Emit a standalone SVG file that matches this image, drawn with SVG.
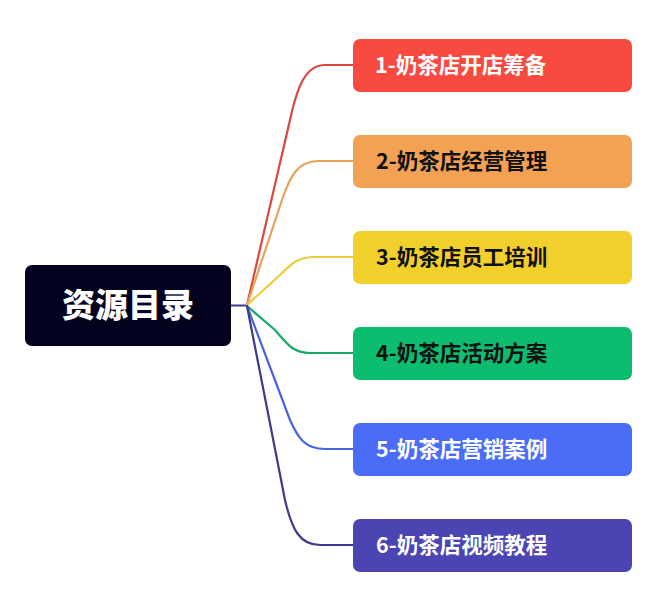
<svg xmlns="http://www.w3.org/2000/svg" width="657" height="590" viewBox="0 0 657 590">
<style>
  .conn { fill: none; stroke-width: 2.2; stroke-linecap: round; stroke-linejoin: round; }
  .node rect { rx: 7; ry: 7; }
  .lbl { font-family: "Noto Sans CJK SC", "Noto Sans", sans-serif; font-weight: 700; font-size: 21.5px; }
  .root-lbl { font-family: "Noto Sans CJK SC", "Noto Sans", sans-serif; font-weight: 900; font-size: 33px; fill: #ffffff; }
</style>
<rect width="657" height="590" fill="#ffffff"/>
<g id="connectors">
  <path class="conn" stroke="#3e3a8e" d="M231 305.5 L247 305.5"/>
  <path class="conn" stroke="#d9473e" d="M247 305 L290 120 C297 88 305 65 325 65 L353 65"/>
  <path class="conn" stroke="#e8a258" d="M247 305 L282 200 C290 176 298 161 318 161 L353 161"/>
  <path class="conn" stroke="#ebcd3b" d="M247 305 L280 275 C292 263 298 257 315 257 L353 257"/>
  <path class="conn" stroke="#17a86a" d="M247 306 L275 330 C287 344 293 353 310 353 L353 353"/>
  <path class="conn" stroke="#4a63dd" d="M247 306 L290 420 C298 438 305 449 325 449 L353 449"/>
  <path class="conn" stroke="#3e3a8e" d="M247 306 L285 500 C292 530 300 545 320 545 L353 545"/>
</g>
<g id="root" class="node">
  <rect x="25" y="265" width="206" height="81" fill="#03031f"/>
  <text class="root-lbl" x="128" y="317" text-anchor="middle">资源目录</text>
</g>
<g id="n1" class="node">
  <rect x="353" y="39" width="279" height="53" fill="#f84a40"/>
  <text class="lbl" x="375" y="73" fill="#ffffff">1-奶茶店开店筹备</text>
</g>
<g id="n2" class="node">
  <rect x="353" y="135" width="279" height="53" fill="#f3a153"/>
  <text class="lbl" x="376" y="169" fill="#111111">2-奶茶店经营管理</text>
</g>
<g id="n3" class="node">
  <rect x="353" y="231" width="279" height="53" fill="#f1d02c"/>
  <text class="lbl" x="376" y="265" fill="#111111">3-奶茶店员工培训</text>
</g>
<g id="n4" class="node">
  <rect x="353" y="327" width="279" height="53" fill="#0cbd70"/>
  <text class="lbl" x="376" y="361" fill="#111111">4-奶茶店活动方案</text>
</g>
<g id="n5" class="node">
  <rect x="353" y="423" width="279" height="53" fill="#4a6cf7"/>
  <text class="lbl" x="376" y="457" fill="#ffffff">5-奶茶店营销案例</text>
</g>
<g id="n6" class="node">
  <rect x="353" y="519" width="279" height="53" fill="#4b45b3"/>
  <text class="lbl" x="376" y="553" fill="#ffffff">6-奶茶店视频教程</text>
</g>
</svg>
